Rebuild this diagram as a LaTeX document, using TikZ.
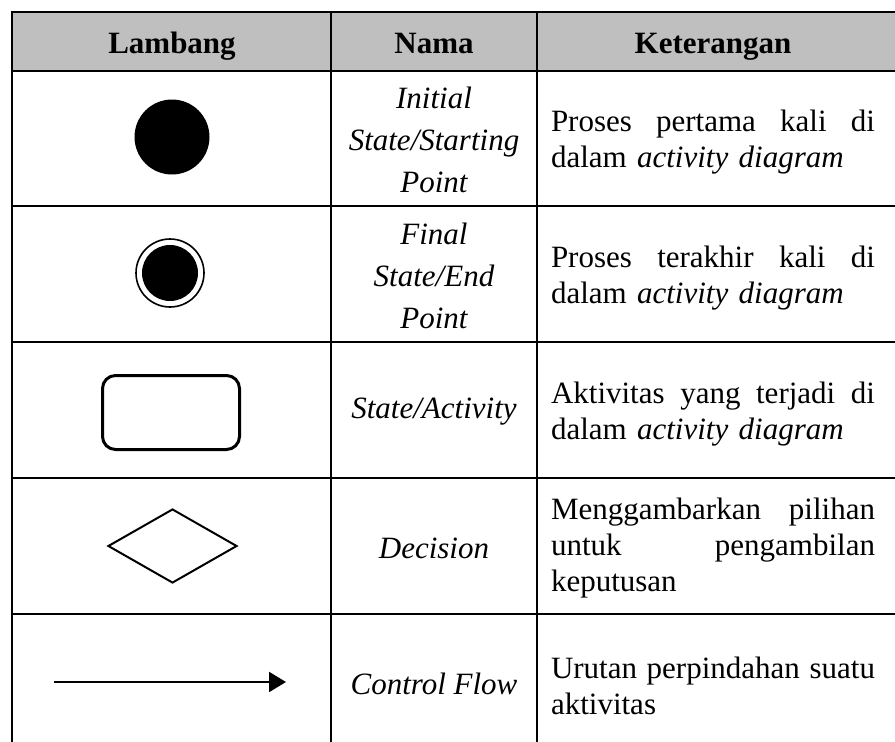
\documentclass[tikz,border=0pt]{standalone}
\usepackage{fontspec}
\setmainfont{Liberation Serif}
\usetikzlibrary{arrows.meta,shapes.geometric}
\definecolor{headgray}{RGB}{191,191,191}
\newlength{\descw}
\setlength{\descw}{324pt}
% a fully justified line of the description column
\newcommand{\jline}[1]{\leavevmode\hbox to \descw{\spaceskip=0.25em plus 1fil\relax #1}}

\begin{document}
\begin{tikzpicture}[x=1pt,y=-1pt,
  grid/.style={line width=2.4pt},
  headtext/.style={font=\fontsize{31}{36}\selectfont\bfseries, anchor=base, inner sep=0pt},
  namecell/.style={font=\fontsize{31}{42}\selectfont\itshape, align=center, anchor=center, inner sep=0pt},
  desccell/.style={font=\fontsize{31}{36}\selectfont, text width=\descw, align=left, anchor=center, inner sep=0pt},
  symfill/.style={circle, fill=black, inner sep=0pt}
]
\useasboundingbox (0,0) rectangle (895,742);

% header band
\fill[headgray] (12,12) rectangle (900,71);

% table rules
\foreach \y in {12,71,206,342,478,614}
  \draw[grid] (10.8,\y) -- (900,\y);
\foreach \x in {12,331,537}
  \draw[grid] (\x,10.8) -- (\x,750);

% header
\node[headtext] (hLambang) at (172,53) {Lambang};
\node[headtext] (hNama)    at (434,53) {Nama};
\node[headtext] (hKet)     at (713,53) {Keterangan};

% symbols
\node[symfill, minimum size=75pt] (initial) at (172,137) {};
\node[circle, draw, line width=1.6pt, minimum size=68pt, inner sep=0pt] (finalring) at (170,273) {};
\node[symfill, minimum size=56pt] (finaldot) at (finalring.center) {};
\node[draw, line width=3pt, rounded corners=13pt, minimum width=137pt, minimum height=74pt, inner sep=0pt] (activity) at (171,412.5) {};
\node[diamond, draw, line width=2pt, minimum width=129pt, minimum height=74pt, inner sep=0pt] (decision) at (172.5,546) {};
\coordinate (flowstart) at (54,682);
\coordinate (flowend) at (286,682);
\draw[line width=2.2pt, -{Triangle[length=17pt,width=20pt]}] (flowstart) -- (flowend);

% names
\node[namecell] (n1) at (434,140) {Initial\\State/Starting\\Point};
\node[namecell] (n2) at (434,276) {Final\\State/End\\Point};
\node[namecell] (n3) at (434,412) {State/Activity};
\node[namecell] (n4) at (434,548) {Decision};
\node[namecell] (n5) at (434,684) {Control Flow};

% descriptions
\node[desccell] (d1) at (713,142) {\jline{Proses pertama kali di}\\dalam \textit{activity diagram}};
\node[desccell] (d2) at (713,278) {\jline{Proses terakhir kali di}\\dalam \textit{activity diagram}};
\node[desccell] (d3) at (713,414) {\jline{Aktivitas yang terjadi di}\\dalam \textit{activity diagram}};
\node[desccell] (d4) at (713,548) {\jline{Menggambarkan pilihan}\\\jline{untuk pengambilan}\\keputusan};
\node[desccell] (d5) at (713,686) {\jline{Urutan perpindahan suatu}\\aktivitas};
\end{tikzpicture}
\end{document}
